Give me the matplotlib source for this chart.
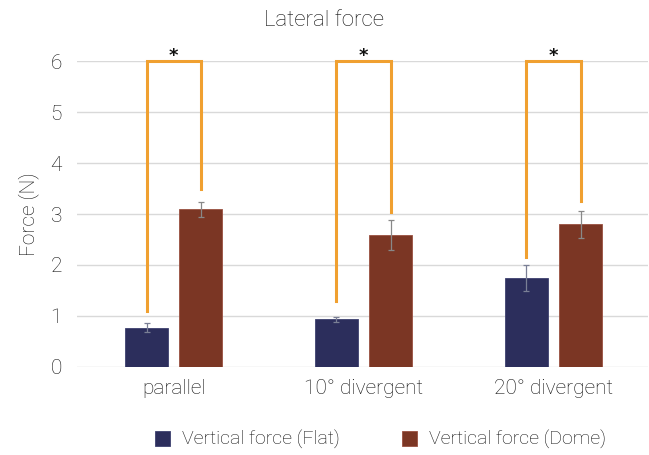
import matplotlib
matplotlib.use("Agg")
import matplotlib.pyplot as plt
import numpy as np

plt.rcParams['font.family'] = ['Roboto', 'DejaVu Sans']
plt.rcParams['font.weight'] = 'light'
plt.rcParams['axes.labelweight'] = 'light'

categories = ["parallel", "10° divergent", "20° divergent"]
flat = [0.77, 0.93, 1.74]
flat_err = [0.08, 0.05, 0.26]
dome = [3.09, 2.59, 2.80]
dome_err = [0.15, 0.30, 0.27]
bracket_left = [1.1, 1.3, 2.15]
bracket_right = [3.5, 3.05, 3.25]
bracket_top = 6.0

x = np.arange(len(categories))
w = 0.226
off = 0.143

fig = plt.figure(figsize=(6.49, 4.55), dpi=100)
ax = fig.add_axes([0.119, 0.194, 0.88, 0.671])

ax.bar(x - off, flat, w, color="#2c2e5c", edgecolor="#3d4070", linewidth=0.6,
       label="Vertical force (Flat)", zorder=2)
ax.bar(x + off, dome, w, color="#7b3624", edgecolor="#9a5040", linewidth=0.6,
       label="Vertical force (Dome)", zorder=2)
ax.errorbar(x - off, flat, yerr=flat_err, fmt="none", ecolor="#7a7f95", elinewidth=0.9,
            capsize=2.5, capthick=0.9, zorder=3)
ax.errorbar(x + off, dome, yerr=dome_err, fmt="none", ecolor="#888888", elinewidth=0.9,
            capsize=2.5, capthick=0.9, zorder=3)

for i in range(len(categories)):
    xl, xr = x[i] - off, x[i] + off
    ax.plot([xl, xl, xr, xr], [bracket_left[i], bracket_top, bracket_top, bracket_right[i]],
            color="#f0a030", linewidth=2.2, zorder=4, clip_on=False, solid_joinstyle="miter")
    ax.text(x[i], bracket_top - 0.08, "*", ha="center", va="bottom", fontsize=13,
            fontweight="bold", family="DejaVu Sans", color="#111111", clip_on=False)

ax.set_xlim(-0.508, 2.5)
ax.set_ylim(0, 6)
ax.set_yticks(range(0, 7))
ax.set_xticks(x)
ax.set_xticklabels(categories, fontsize=15)
ax.tick_params(axis="both", length=0, colors="#111111")
ax.tick_params(axis="y", labelsize=15, pad=11)
ax.tick_params(axis="x", pad=9)
ax.yaxis.grid(True, color="#d9d9d9", linewidth=1.0, zorder=0)
ax.set_axisbelow(True)
for s in ax.spines.values():
    s.set_visible(False)

ax.set_ylabel("Force (N)", fontsize=15, color="#111111", labelpad=8)
fig.text(0.5, 0.955, "Lateral force", ha="center", va="center", fontsize=16, color="#111111")

fig.legend(loc="center", bbox_to_anchor=(0.586, 0.033), ncol=2, frameon=False,
           fontsize=14, handlelength=0.8, handleheight=0.8, columnspacing=3.2,
           handletextpad=0.6, labelcolor="#111111")

fig.savefig("out.png", dpi=100)
